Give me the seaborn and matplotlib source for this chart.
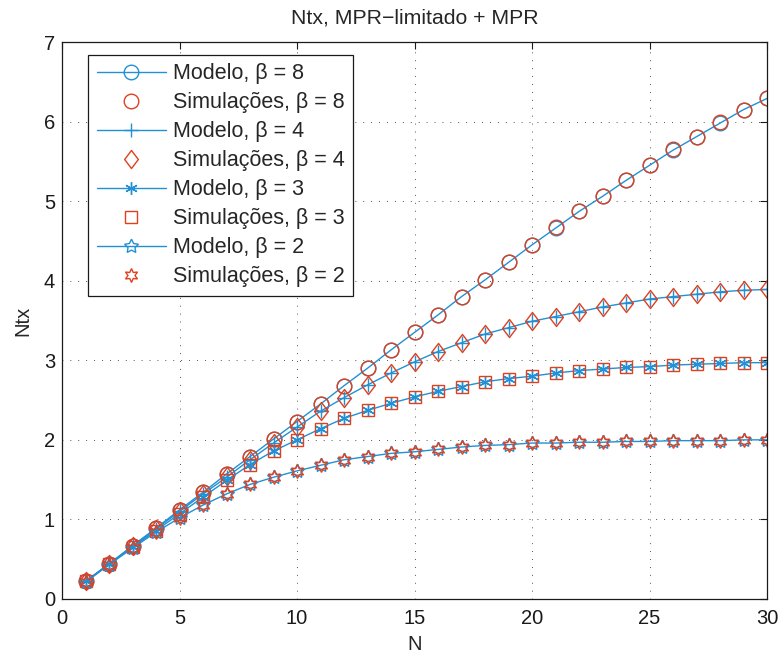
import numpy as np
import pandas as pd
import matplotlib
matplotlib.use("Agg")
import matplotlib.pyplot as plt
from matplotlib.path import Path
import seaborn as sns

N = list(range(1, 31))

model_b8 = [0.22, 0.44, 0.67, 0.89, 1.12, 1.34, 1.57, 1.79, 2.01, 2.23,
            2.45, 2.68, 2.90, 3.13, 3.35, 3.57, 3.80, 4.01, 4.23, 4.45,
            4.66, 4.87, 5.06, 5.26, 5.45, 5.64, 5.81, 5.98, 6.15, 6.29]
sim_b8 = [0.22, 0.44, 0.67, 0.89, 1.12, 1.34, 1.57, 1.79, 2.01, 2.23,
          2.45, 2.68, 2.90, 3.13, 3.35, 3.57, 3.80, 4.01, 4.23, 4.45,
          4.67, 4.87, 5.06, 5.26, 5.45, 5.65, 5.81, 5.99, 6.15, 6.30]

model_b4 = [0.22, 0.44, 0.66, 0.88, 1.10, 1.32, 1.53, 1.75, 1.96, 2.16,
            2.36, 2.53, 2.69, 2.84, 2.98, 3.11, 3.22, 3.33, 3.41, 3.49,
            3.55, 3.61, 3.67, 3.72, 3.77, 3.80, 3.83, 3.86, 3.88, 3.89]
sim_b4 = [0.22, 0.44, 0.67, 0.88, 1.10, 1.32, 1.54, 1.75, 1.96, 2.16,
          2.36, 2.53, 2.69, 2.84, 2.98, 3.11, 3.22, 3.33, 3.41, 3.49,
          3.55, 3.61, 3.67, 3.72, 3.77, 3.80, 3.83, 3.86, 3.88, 3.90]

model_b3 = [0.22, 0.44, 0.65, 0.86, 1.07, 1.28, 1.49, 1.69, 1.86, 2.00,
            2.14, 2.27, 2.37, 2.46, 2.54, 2.61, 2.67, 2.73, 2.77, 2.80,
            2.84, 2.87, 2.89, 2.91, 2.92, 2.94, 2.95, 2.96, 2.97, 2.97]
sim_b3 = [0.22, 0.44, 0.65, 0.86, 1.07, 1.28, 1.49, 1.69, 1.86, 2.00,
          2.14, 2.27, 2.37, 2.46, 2.54, 2.61, 2.67, 2.73, 2.77, 2.80,
          2.84, 2.87, 2.89, 2.91, 2.92, 2.94, 2.95, 2.96, 2.97, 2.97]

model_b2 = [0.21, 0.43, 0.64, 0.84, 1.02, 1.18, 1.32, 1.44, 1.53, 1.61,
            1.68, 1.75, 1.79, 1.83, 1.85, 1.88, 1.91, 1.93, 1.94, 1.96,
            1.96, 1.97, 1.97, 1.98, 1.98, 1.99, 1.99, 1.99, 2.00, 2.00]
sim_b2 = [0.21, 0.43, 0.64, 0.84, 1.02, 1.18, 1.32, 1.44, 1.53, 1.61,
          1.68, 1.75, 1.79, 1.83, 1.85, 1.88, 1.91, 1.93, 1.94, 1.96,
          1.96, 1.97, 1.97, 1.98, 1.98, 1.99, 1.99, 1.99, 2.00, 2.00]

betas = [8, 4, 3, 2]
models = [model_b8, model_b4, model_b3, model_b2]
sims = [sim_b8, sim_b4, sim_b3, sim_b2]

BLUE = "#2290d4"
RED = "#e0401e"

diamond = Path([(0, 1), (0.76, 0), (0, -1), (-0.76, 0), (0, 1)],
               [Path.MOVETO, Path.LINETO, Path.LINETO, Path.LINETO, Path.CLOSEPOLY])

model_markers = [("o", 10.5), ("+", 9.5), ((6, 2, 0), 9), ((5, 1, 0), 10.5)]
sim_markers = [("o", 10.5), (diamond, 13), ("s", 8.5), ((6, 1, 0), 10)]

sns.set_theme(style="white")
plt.rcParams["font.family"] = ["Liberation Sans", "DejaVu Sans"]

fig = plt.figure(figsize=(7.82, 6.55), dpi=100)
ax = fig.add_axes([62 / 782, 56 / 655, 705 / 782, 557 / 655])

for b, m, s, (mm, ms), (sm, ss) in zip(betas, models, sims, model_markers, sim_markers):
    dfm = pd.DataFrame({"N": N, "Ntx": m})
    dfs = pd.DataFrame({"N": N, "Ntx": s})
    sns.lineplot(data=dfm, x="N", y="Ntx", ax=ax, color=BLUE, lw=1.0,
                 marker=mm, markersize=ms, markerfacecolor="none",
                 markeredgecolor=BLUE, markeredgewidth=1.0,
                 label=f"Modelo, β = {b}")
    sns.lineplot(data=dfs, x="N", y="Ntx", ax=ax, color=RED, linestyle="none",
                 marker=sm, markersize=ss, markerfacecolor="none",
                 markeredgecolor=RED, markeredgewidth=1.0,
                 label=f"Simulações, β = {b}")

ax.set_xlim(0, 30)
ax.set_ylim(0, 7)
ax.set_xticks([0, 5, 10, 15, 20, 25, 30])
ax.set_yticks(range(0, 8))
ax.grid(True, color="k", linestyle=(0, (1, 8.5)), linewidth=0.6)
ax.tick_params(direction="in", length=5, width=0.8, top=True, right=True,
               labelsize=14.5, colors="k")
ax.tick_params(axis="x", pad=7)
ax.tick_params(axis="y", pad=5)
for sp in ax.spines.values():
    sp.set_visible(True)
    sp.set_color("k")
    sp.set_linewidth(0.9)
ax.set_xlabel("N", fontsize=14.5, labelpad=5)
ax.set_ylabel("Ntx", fontsize=14.5, labelpad=8)
ax.set_title("Ntx, MPR\u2212limitado + MPR", fontsize=15.3, pad=13)

leg = ax.legend(loc="upper left", bbox_to_anchor=(0.037, 0.977), borderaxespad=0,
                fontsize=15.5, frameon=True, fancybox=False, edgecolor="k",
                framealpha=1, handlelength=3.2, labelspacing=0.37,
                borderpad=0.4, handletextpad=0.35)
leg.get_frame().set_linewidth(0.9)

fig.savefig("out.png", dpi=100)
